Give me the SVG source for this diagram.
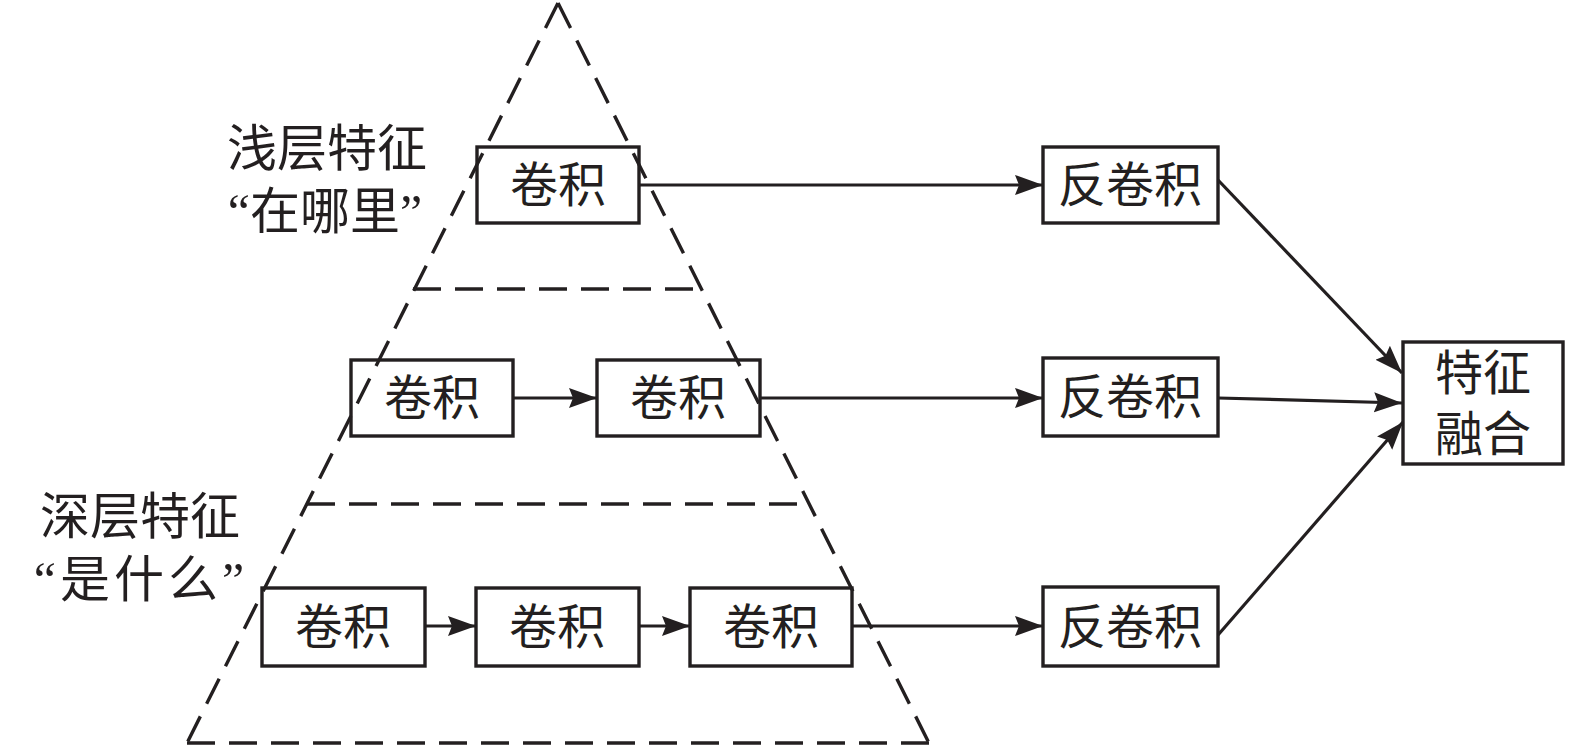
<svg xmlns="http://www.w3.org/2000/svg" width="1575" height="746" viewBox="0 0 1575 746">
<style>
.box{fill:none;stroke:#231f20;stroke-width:3.4}
.dash{fill:none;stroke:#231f20;stroke-width:3.4;stroke-dasharray:28 14}
.con{fill:none;stroke:#231f20;stroke-width:3.2}
.t{font-family:"Liberation Serif","Noto Sans CJK SC",serif;font-size:48px;fill:#231f20;text-anchor:middle}
.lbl{font-family:"Liberation Serif","Noto Sans CJK SC",serif;font-size:50px;fill:#231f20;text-anchor:middle}
</style>
<defs>
<marker id="arr" markerUnits="userSpaceOnUse" markerWidth="28" markerHeight="22" refX="28" refY="11" orient="auto">
<path d="M0,1 L28,11 L0,21 L4,11 z" fill="#231f20"/>
</marker>
</defs>
<g id="pyramid">
<path class="dash" d="M558,3 L187,743"/>
<path class="dash" d="M558,3 L929,743"/>
<path class="dash" d="M187,743 L929,743"/>
<path class="dash" d="M413,289 L701,289"/>
<path class="dash" d="M307,504 L810,504"/>
</g>
<g id="label-shallow">
<text class="lbl" x="327" y="166">浅层特征</text>
<text class="lbl" x="325" y="229">“在哪里”</text>
</g>
<g id="label-deep">
<text class="lbl" x="140" y="534">深层特征</text>
<text class="lbl" x="141" y="597" letter-spacing="4">“是什么”</text>
</g>
<g id="conv-top"><rect class="box" x="477" y="147" width="162" height="76"/><text class="t" x="558" y="202">卷积</text></g>
<g id="conv-mid1"><rect class="box" x="351" y="360" width="162" height="76"/><text class="t" x="432" y="415">卷积</text></g>
<g id="conv-mid2"><rect class="box" x="597" y="360" width="163" height="76"/><text class="t" x="678" y="415">卷积</text></g>
<g id="conv-bot1"><rect class="box" x="262" y="588" width="163" height="78"/><text class="t" x="343" y="644">卷积</text></g>
<g id="conv-bot2"><rect class="box" x="476" y="588" width="163" height="78"/><text class="t" x="557" y="644">卷积</text></g>
<g id="conv-bot3"><rect class="box" x="690" y="588" width="162" height="78"/><text class="t" x="771" y="644">卷积</text></g>
<g id="deconv-top"><rect class="box" x="1043" y="147" width="175" height="76"/><text class="t" x="1130" y="202">反卷积</text></g>
<g id="deconv-mid"><rect class="box" x="1043" y="358" width="175" height="78"/><text class="t" x="1130" y="414">反卷积</text></g>
<g id="deconv-bot"><rect class="box" x="1043" y="587" width="175" height="79"/><text class="t" x="1130" y="644">反卷积</text></g>
<g id="fusion"><rect class="box" x="1403" y="342" width="160" height="122"/><text class="t" x="1483" y="390">特征</text><text class="t" x="1483" y="451">融合</text></g>
<g id="connectors">
<line class="con" x1="639" y1="185" x2="1043" y2="185" marker-end="url(#arr)"/>
<line class="con" x1="513" y1="398" x2="597" y2="398" marker-end="url(#arr)"/>
<line class="con" x1="760" y1="398" x2="1043" y2="398" marker-end="url(#arr)"/>
<line class="con" x1="425" y1="626" x2="476" y2="626" marker-end="url(#arr)"/>
<line class="con" x1="639" y1="626" x2="690" y2="626" marker-end="url(#arr)"/>
<line class="con" x1="852" y1="626" x2="1043" y2="626" marker-end="url(#arr)"/>
<line class="con" x1="1218" y1="180" x2="1402" y2="373" marker-end="url(#arr)"/>
<line class="con" x1="1218" y1="398" x2="1402" y2="403" marker-end="url(#arr)"/>
<line class="con" x1="1218" y1="635" x2="1403" y2="422" marker-end="url(#arr)"/>
</g>
</svg>
